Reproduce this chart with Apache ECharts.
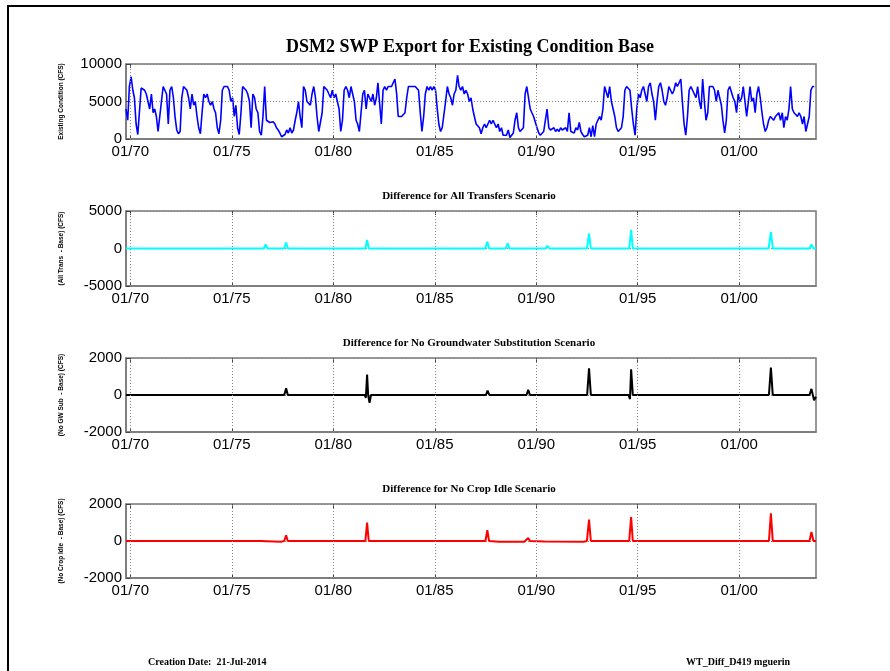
<!DOCTYPE html>
<html>
<head>
<meta charset="utf-8">
<script src="https://cdn.jsdelivr.net/npm/echarts@6/dist/echarts.min.js"></script>
<style>
html,body{margin:0;padding:0;background:#fff;}
#c{width:890px;height:671px;}
</style>
</head>
<body>
<div id="c"></div>
<script>
// ---------- DATA ----------
// Existing condition SWP export (CFS), monthly, water years 1970-2003 (Oct..Sep)
const baseStart = [1969, 10]; // year, month of first value
const baseFlow = [
  4000, 2500, 7000, 8300, 6500, 5500, 2000, 600, 800, 6800, 7000, 6500,
  6000, 5000, 4000, 6000, 3500, 4000, 3000, 1000, 800, 5000, 7000, 6800,
  6000, 2000, 6500, 7000, 5500, 3000, 1200, 700, 1000, 5500, 7000, 7000,
  6500, 5500, 4000, 6000, 4500, 5000, 3000, 1500, 700, 3500, 6000, 5500,
  6000, 5000, 4500, 5000, 4000, 3500, 1500, 700, 2500, 6500, 7000, 7000,
  7000, 6500, 5000, 5500, 3000, 4500, 1500, 600, 3500, 7000, 7000, 6500,
  6000, 5000, 1500, 6000, 5500, 4000, 3500, 1000, 500, 3000, 7000, 2500,
  2500, 2200, 2000, 2300, 2000, 1500, 1200, 800, 300, 100, 600, 1200,
  800, 1500, 800, 1200, 2500, 3500, 5000, 3000, 1500, 7000, 6500, 5000,
  5000, 4500, 6000, 7000, 5500, 3000, 1000, 1200, 3500, 7000, 7000, 6500,
  6000, 5500, 6500, 5500, 6000, 5000, 4000, 1000, 2500, 6500, 7000, 6500,
  5500, 7000, 6000, 5000, 2500, 2000, 1000, 3500, 6000, 6500, 4000, 6000,
  5500, 5000, 6000, 4500, 5500, 7500, 7500, 2000, 6500, 7000, 6500, 7000,
  7000, 7000, 7500, 8000, 6000, 3000, 3200, 3000, 3000, 3500, 5500, 7000,
  7000, 7000, 7000, 7000, 6800, 6500, 3500, 1000, 3000, 6000, 7000, 6500,
  7000, 6500, 7000, 6500, 4000, 2000, 1000, 1500, 1500, 5000, 7000, 6000,
  5500, 4500, 6000, 6500, 8500, 7000, 6500, 7000, 6000, 6500, 6000, 5000,
  5500, 4000, 3000, 2000, 2000, 1500, 700, 1500, 2000, 1500, 2000, 2500,
  2000, 2500, 2500, 1500, 2000, 1000, 1500, 500, 300, 500, 1200, 200,
  300, 800, 2500, 3500, 1500, 1000, 1200, 1500, 6000, 7000, 7000, 4000,
  3500, 3000, 3000, 1500, 800, 500, 500, 1000, 1000, 4000, 1500, 1200,
  1200, 1500, 1000, 1300, 1000, 1500, 1200, 1000, 1500, 1000, 3500, 1000,
  1000, 800, 1500, 1200, 2200, 1000, 600, 300, 200, 500, 1500, 300,
  1800, 300, 2000, 2500, 3000, 2500, 4000, 7000, 7000, 5500, 7000, 5000,
  5000, 3000, 1500, 1000, 1000, 1500, 3000, 6500, 7000, 7200, 6500, 4000,
  2000, 500, 4000, 6000, 5500, 6500, 7000, 6000, 5000, 7000, 7500, 6000,
  5000, 2500, 5000, 7000, 7500, 6500, 5000, 4500, 5500, 7000, 7000, 6000,
  6500, 7500, 7000, 7500, 8000, 5000, 2000, 500, 3000, 6500, 7000, 6500,
  6500, 5500, 7000, 5000, 4000, 8000, 5000, 2500, 3500, 7000, 7000, 7000,
  6500, 5000, 6500, 5500, 4500, 2500, 800, 2500, 6500, 7000, 7000, 5500,
  5000, 3500, 6000, 5000, 5500, 7000, 5000, 3000, 5000, 7000, 5000, 5500,
  3500, 6000, 7000, 5500, 3500, 2000, 1000, 1500, 2500, 3000, 2800, 2500,
  3000, 3200, 3500, 2500, 3500, 1500, 3000, 2500, 4000, 7000, 4000, 3500,
  3500, 3000, 3500, 3000, 2000, 3000, 1000, 1200, 3000, 6500, 7000, 7000
];

// Differences from base (CFS): [date, value]
const allTransDiff = [
  ['1969-10-15',0],['1976-08-01',0],['1976-09-01',550],['1976-10-01',0],
  ['1977-08-01',0],['1977-09-05',800],['1977-10-05',0],
  ['1981-08-01',0],['1981-09-01',1150],['1981-10-01',0],
  ['1987-07-01',0],['1987-08-05',900],['1987-09-05',0],
  ['1988-07-01',0],['1988-08-05',700],['1988-09-05',0],
  ['1990-06-15',0],['1990-07-20',350],['1990-08-25',0],
  ['1992-07-01',0],['1992-08-08',2000],['1992-09-10',0],
  ['1994-08-01',0],['1994-09-05',2500],['1994-10-05',0],
  ['2001-06-15',0],['2001-07-25',2200],['2001-08-30',0],
  ['2003-06-20',0],['2003-07-25',550],['2003-08-30',0],['2003-10-15',0]
];
const noGWSubDiff = [
  ['1969-10-15',0],['1977-08-01',0],['1977-09-05',360],['1977-10-05',0],
  ['1981-07-20',0],['1981-08-10',-150],['1981-09-01',1100],['1981-09-20',0],['1981-10-15',-420],['1981-11-10',0],
  ['1987-07-10',0],['1987-08-10',240],['1987-09-10',0],
  ['1989-07-10',0],['1989-08-10',280],['1989-09-10',0],
  ['1992-07-05',0],['1992-08-08',1440],['1992-09-10',0],
  ['1994-07-20',0],['1994-08-15',-220],['1994-09-05',1390],['1994-10-05',0],
  ['2001-06-20',0],['2001-07-25',1480],['2001-08-28',0],
  ['2003-06-20',0],['2003-07-25',330],['2003-09-10',-280],['2003-10-15',-100]
];
const noCropIdleDiff = [
  ['1969-10-15',0],['1976-06-01',0],['1976-07-01',-35],['1977-06-01',-35],
  ['1977-08-01',0],['1977-09-05',310],['1977-10-05',0],
  ['1981-08-01',0],['1981-09-01',1000],['1981-10-01',0],
  ['1987-07-01',0],['1987-08-05',580],['1987-09-05',0],
  ['1988-03-01',-40],['1989-06-01',-35],['1989-08-10',160],['1989-09-10',0],
  ['1990-06-01',-30],['1992-05-01',-35],['1992-07-01',0],['1992-08-08',1160],['1992-09-10',0],
  ['1994-08-01',0],['1994-09-05',1300],['1994-10-05',0],
  ['2001-06-20',0],['2001-07-25',1490],['2001-08-28',0],
  ['2003-06-20',0],['2003-07-25',490],['2003-08-30',0],['2003-10-15',0]
];

const tickYears = [1970, 1975, 1980, 1985, 1990, 1995, 2000];
const xRange = ['1969-10-15', '2003-10-15'];
const panelTitles = [
  'DSM2 SWP Export for Existing Condition Base',
  'Difference for All Transfers Scenario',
  'Difference for No Groundwater Substitution Scenario',
  'Difference for No Crop Idle Scenario'
];
const yNames = [
  'Existing Condition (CFS)',
  '(All Trans  - Base) (CFS)',
  '(No GW Sub  - Base) (CFS)',
  '(No Crop Idle  - Base) (CFS)'
];
const yRanges = [[0, 10000, 5000], [-5000, 5000, 5000], [-2000, 2000, 2000], [-2000, 2000, 2000]];
const footerLeft = 'Creation Date:  21-Jul-2014';
const footerRight = 'WT_Diff_D419 mguerin';

// ---------- CHART ----------
const toTs = s => { const p = s.split('-').map(Number); return new Date(p[0], p[1]-1, p[2]).getTime(); };
const baseData = baseFlow.map((v, i) => [new Date(baseStart[0], baseStart[1]-1 + i, 15).getTime(), v]);
const conv = arr => arr.map(d => [toTs(d[0]), d[1]]);
const tickTs = tickYears.map(y => new Date(y, 0, 1).getTime());
const xMin = toTs(xRange[0]), xMax = toTs(xRange[1]);

const gridTops = [64, 211, 358, 504];
const gridH = [75, 75, 74, 74];
const colors = ['#0000ff', '#00ffff', '#000000', '#ff0000'];
const widths = [1.6, 2, 2, 2];
const seriesData = [baseData, conv(allTransDiff), conv(noGWSubDiff), conv(noCropIdleDiff)];
const FONT = 'Liberation Sans';
const SERIF = 'Liberation Serif';

const grids = [], xAxes = [], yAxes = [], series = [];
for (let i = 0; i < 4; i++) {
  grids.push({left: 126, width: 690, top: gridTops[i], height: gridH[i], show: true,
    borderColor: '#777', borderWidth: 1.5, backgroundColor: '#fff', containLabel: false});
  xAxes.push({type: 'value', gridIndex: i, min: xMin, max: xMax, scale: true,
    axisLine: {show: true, onZero: false, lineStyle: {color: '#777', width: 1.5}},
    axisTick: {show: true, inside: true, length: 4, customValues: tickTs, lineStyle: {color: '#444'}},
    axisLabel: {show: true, customValues: tickTs, margin: 5, fontFamily: FONT, fontSize: 15, color: '#000',
      formatter: v => '01/' + String(new Date(v).getFullYear()).slice(2)},
    splitLine: {show: false}});
  xAxes.push({type: 'value', gridIndex: i, min: xMin, max: xMax, scale: true, position: 'top',
    axisLine: {show: false, onZero: false},
    axisTick: {show: true, inside: true, length: 4, customValues: tickTs, lineStyle: {color: '#444'}},
    axisLabel: {show: false}, splitLine: {show: false}});
  const r = yRanges[i];
  yAxes.push({type: 'value', gridIndex: i, min: r[0], max: r[1], interval: r[2],
    name: yNames[i], nameLocation: 'middle', nameGap: 61, nameRotate: 90,
    nameTextStyle: {fontFamily: FONT, fontSize: 6.5, fontWeight: 'bold', color: '#000'},
    axisLine: {show: true, onZero: false, lineStyle: {color: '#777', width: 1.5}},
    axisTick: {show: true, inside: true, length: 4, lineStyle: {color: '#444'}},
    axisLabel: {margin: 4, fontFamily: FONT, fontSize: 15, color: '#000', formatter: v => String(v)},
    splitLine: {show: true, lineStyle: {type: [1, 2], color: '#888', width: 1}}});
  series.push({type: 'line', xAxisIndex: i * 2, yAxisIndex: i, data: seriesData[i],
    showSymbol: false, symbol: 'none', animation: false,
    lineStyle: {color: colors[i], width: widths[i]}, z: 3,
    markLine: {silent: true, symbol: 'none', animation: false, label: {show: false},
      lineStyle: {type: [1, 2], color: '#888', width: 1},
      data: tickTs.map(t => ({xAxis: t}))}});
}

const graphics = [
  {type: 'rect', shape: {x: 8, y: 6, width: 1000, height: 1000}, style: {fill: 'none', stroke: '#000', lineWidth: 2}, silent: true},
  {type: 'text', x: 470, y: 47, style: {text: panelTitles[0], font: 'bold 18px "' + SERIF + '"', fill: '#000', textAlign: 'center', textVerticalAlign: 'middle'}},
  {type: 'text', x: 469, y: 196, style: {text: panelTitles[1], font: 'bold 11px "' + SERIF + '"', fill: '#000', textAlign: 'center', textVerticalAlign: 'middle'}},
  {type: 'text', x: 469, y: 343, style: {text: panelTitles[2], font: 'bold 11px "' + SERIF + '"', fill: '#000', textAlign: 'center', textVerticalAlign: 'middle'}},
  {type: 'text', x: 469, y: 489, style: {text: panelTitles[3], font: 'bold 11px "' + SERIF + '"', fill: '#000', textAlign: 'center', textVerticalAlign: 'middle'}},
  {type: 'text', x: 148, y: 662, style: {text: footerLeft, font: 'bold 10px "' + SERIF + '"', fill: '#000', textAlign: 'left', textVerticalAlign: 'middle'}},
  {type: 'text', x: 686, y: 662, style: {text: footerRight, font: 'bold 10px "' + SERIF + '"', fill: '#000', textAlign: 'left', textVerticalAlign: 'middle'}}
];

const chart = echarts.init(document.getElementById('c'), null, {renderer: 'canvas'});
chart.setOption({
  backgroundColor: '#fff',
  animation: false,
  grid: grids, xAxis: xAxes, yAxis: yAxes, series: series,
  graphic: graphics
});
</script>
</body>
</html>
